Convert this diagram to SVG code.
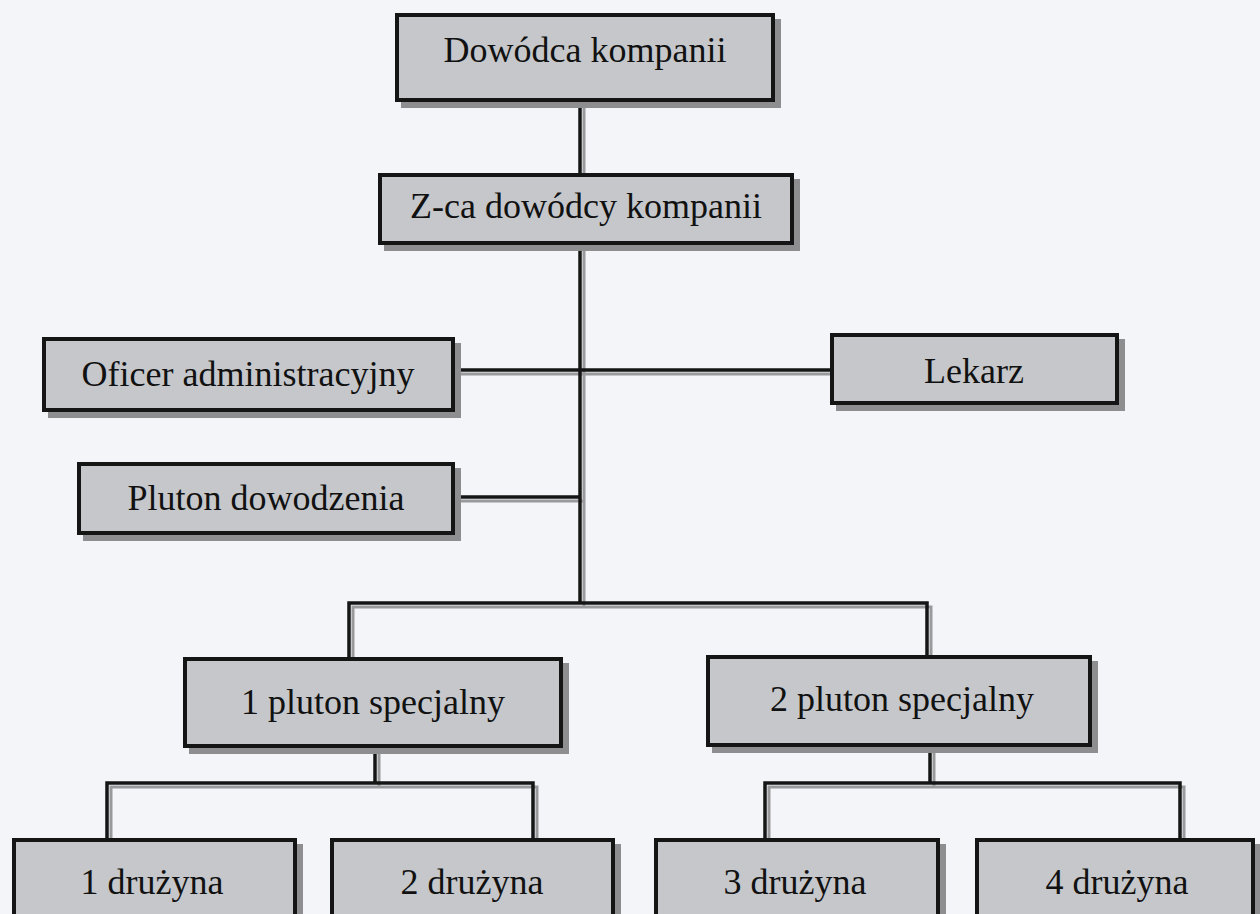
<svg xmlns="http://www.w3.org/2000/svg" width="1260" height="914" viewBox="0 0 1260 914">
  <style>
    .box { fill: #c5c7cb; stroke: #151515; stroke-width: 4; }
    .shadow { fill: #8e8e90; }
    .label { font-family: "Liberation Serif", "Times New Roman", serif; font-size: 36px; fill: #111; text-anchor: middle; }
    .wire { fill: none; stroke: #151515; stroke-width: 3.5; stroke-linejoin: miter; }
    .wire-shade { fill: none; stroke: #9a9a9c; stroke-width: 3; stroke-linejoin: miter; }
  </style>
  <rect width="1260" height="914" fill="#f3f5f8"/>

  <!-- connectors: a grey shade line offset below/right, black line on top -->
  <g id="connectors">
    <g transform="translate(4,4)">
      <path class="wire-shade" d="M580 102 V173"/>
      <path class="wire-shade" d="M580 245 V603"/>
      <path class="wire-shade" d="M455 370 H830"/>
      <path class="wire-shade" d="M455 497 H580"/>
      <path class="wire-shade" d="M349 657 V603 H927 V655"/>
      <path class="wire-shade" d="M375 748 V783"/>
      <path class="wire-shade" d="M107 838 V783 H533 V838"/>
      <path class="wire-shade" d="M930 747 V783"/>
      <path class="wire-shade" d="M765 838 V783 H1180 V838"/>
    </g>
    <path class="wire" d="M580 102 V173"/>
    <path class="wire" d="M580 245 V603"/>
    <path class="wire" d="M455 370 H830"/>
    <path class="wire" d="M455 497 H580"/>
    <path class="wire" d="M349 657 V603 H927 V655"/>
    <path class="wire" d="M375 748 V783"/>
    <path class="wire" d="M107 838 V783 H533 V838"/>
    <path class="wire" d="M930 747 V783"/>
    <path class="wire" d="M765 838 V783 H1180 V838"/>
  </g>

  <g id="dowodca">
    <rect class="shadow" x="401" y="19" width="380" height="89"/>
    <rect class="box" x="397" y="15" width="376" height="85"/>
    <text class="label" x="585" y="62">Dowódca kompanii</text>
  </g>

  <g id="zastepca">
    <rect class="shadow" x="384" y="179" width="416" height="72"/>
    <rect class="box" x="380" y="175" width="412" height="68"/>
    <text class="label" x="586" y="218">Z-ca dowódcy kompanii</text>
  </g>

  <g id="oficer-adm">
    <rect class="shadow" x="48" y="343" width="413" height="75"/>
    <rect class="box" x="44" y="339" width="409" height="71"/>
    <text class="label" x="248" y="386">Oficer administracyjny</text>
  </g>

  <g id="lekarz">
    <rect class="shadow" x="836" y="339" width="289" height="72"/>
    <rect class="box" x="832" y="335" width="285" height="68"/>
    <text class="label" x="974" y="383">Lekarz</text>
  </g>

  <g id="pluton-dow">
    <rect class="shadow" x="83" y="468" width="378" height="73"/>
    <rect class="box" x="79" y="464" width="374" height="69"/>
    <text class="label" x="266" y="510">Pluton dowodzenia</text>
  </g>

  <g id="pluton-1">
    <rect class="shadow" x="189" y="663" width="380" height="91"/>
    <rect class="box" x="185" y="659" width="376" height="87"/>
    <text class="label" x="373" y="714">1 pluton specjalny</text>
  </g>

  <g id="pluton-2">
    <rect class="shadow" x="712" y="661" width="386" height="92"/>
    <rect class="box" x="708" y="657" width="382" height="88"/>
    <text class="label" x="902" y="711">2 pluton specjalny</text>
  </g>

  <g id="druzyna-1">
    <rect class="shadow" x="18" y="844" width="285" height="80"/>
    <rect class="box" x="14" y="840" width="281" height="80"/>
    <text class="label" x="152" y="894">1 drużyna</text>
  </g>

  <g id="druzyna-2">
    <rect class="shadow" x="336" y="844" width="285" height="80"/>
    <rect class="box" x="332" y="840" width="281" height="80"/>
    <text class="label" x="472" y="894">2 drużyna</text>
  </g>

  <g id="druzyna-3">
    <rect class="shadow" x="660" y="844" width="286" height="80"/>
    <rect class="box" x="656" y="840" width="282" height="80"/>
    <text class="label" x="795" y="894">3 drużyna</text>
  </g>

  <g id="druzyna-4">
    <rect class="shadow" x="981" y="844" width="280" height="80"/>
    <rect class="box" x="977" y="840" width="276" height="80"/>
    <text class="label" x="1117" y="894">4 drużyna</text>
  </g>
</svg>
